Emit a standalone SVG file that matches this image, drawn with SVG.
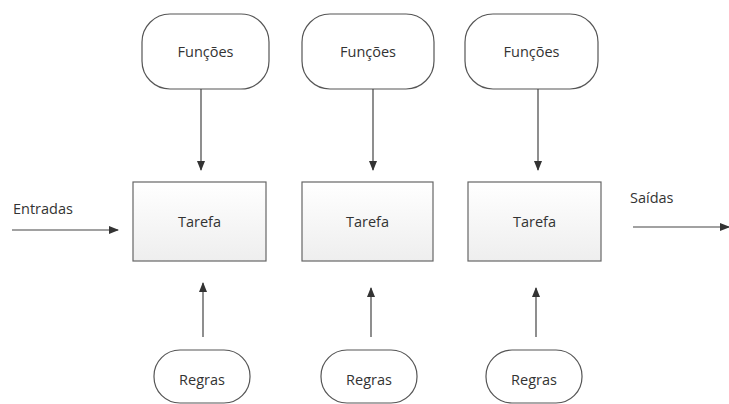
<svg xmlns="http://www.w3.org/2000/svg" width="729" height="404" viewBox="0 0 729 404">
<style>
.n{fill:#fff;stroke:#555;stroke-width:1.2}
.t{fill:url(#g);stroke:#666;stroke-width:1.2}
.l{font-family:"Open Sans","Liberation Sans",sans-serif;font-size:14.5px;fill:#333;text-anchor:middle}
.c{stroke:#444;stroke-width:1.2;fill:none;marker-end:url(#a)}
</style>
<defs>
<linearGradient id="g" x1="0" y1="0" x2="0" y2="1"><stop offset="0" stop-color="#fff"/><stop offset="1" stop-color="#eee"/></linearGradient>
<marker id="a" markerWidth="10" markerHeight="8" refX="9" refY="4" orient="auto" markerUnits="userSpaceOnUse"><path d="M0,0L10,4L0,8Z" fill="#333"/></marker>
</defs>
<rect width="729" height="404" fill="#fff"/>
<g id="f1"><rect class="n" x="142" y="14" width="127" height="75" rx="28"/><text class="l" x="205.5" y="57">Funções</text></g>
<g id="f2"><rect class="n" x="302" y="14" width="132" height="75" rx="28"/><text class="l" x="368" y="57">Funções</text></g>
<g id="f3"><rect class="n" x="465" y="14" width="133" height="75" rx="28"/><text class="l" x="531.5" y="57">Funções</text></g>
<g id="t1"><rect class="t" x="133" y="182" width="133" height="79"/><text class="l" x="199.5" y="227">Tarefa</text></g>
<g id="t2"><rect class="t" x="302" y="182" width="131" height="79"/><text class="l" x="367.5" y="227">Tarefa</text></g>
<g id="t3"><rect class="t" x="468" y="182" width="133" height="79"/><text class="l" x="534.5" y="227">Tarefa</text></g>
<g id="r1"><rect class="n" x="154" y="350" width="96" height="53" rx="26"/><text class="l" x="202" y="385">Regras</text></g>
<g id="r2"><rect class="n" x="321" y="350" width="96" height="53" rx="26"/><text class="l" x="369" y="385">Regras</text></g>
<g id="r3"><rect class="n" x="486" y="350" width="96" height="53" rx="26"/><text class="l" x="534" y="385">Regras</text></g>
<g id="labels">
<text class="l" x="13" y="214" style="text-anchor:start">Entradas</text>
<text class="l" x="630" y="203" style="text-anchor:start">Saídas</text>
</g>
<g id="connectors">
<path class="c" d="M12,230H118"/>
<path class="c" d="M633,227H729"/>
<path class="c" d="M201,89V170"/>
<path class="c" d="M373,89V170"/>
<path class="c" d="M538,89V170"/>
<path class="c" d="M203,337V283"/>
<path class="c" d="M371,337V288"/>
<path class="c" d="M536,337V288"/>
</g>
</svg>
